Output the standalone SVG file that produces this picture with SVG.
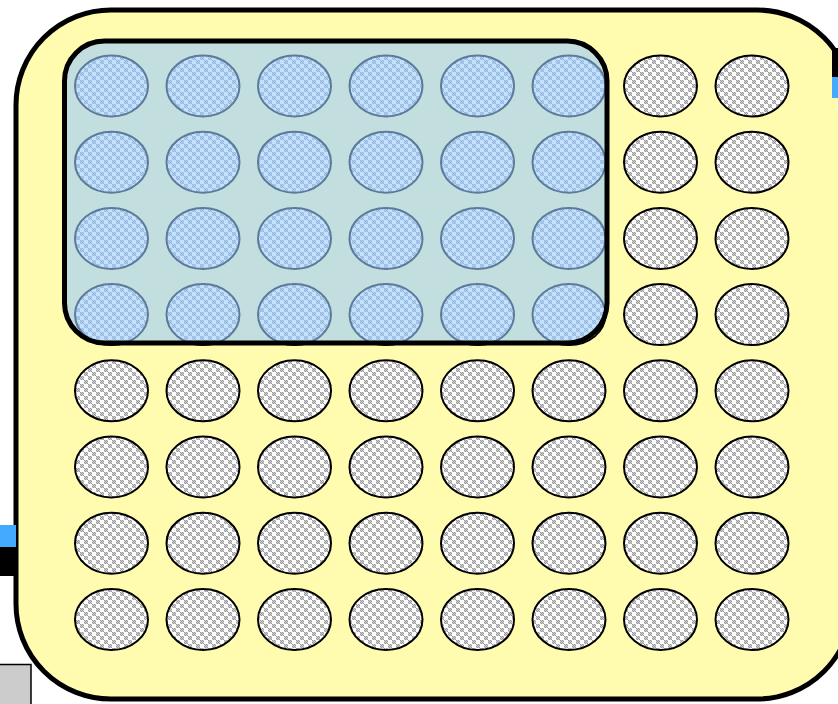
<svg xmlns="http://www.w3.org/2000/svg" width="838" height="704" viewBox="0 0 838 704">
<defs>
<pattern id="chk" x="0" y="0" width="8" height="8" patternUnits="userSpaceOnUse">
<rect width="8" height="8" fill="#ffffff"/>
<rect x="0" y="0" width="4" height="4" fill="#d0d0d0"/>
<rect x="4" y="4" width="4" height="4" fill="#d0d0d0"/>
<rect x="0" y="0" width="1" height="1" fill="#9a9a9a"/><rect x="2" y="0" width="1" height="1" fill="#9a9a9a"/>
<rect x="1" y="1" width="1" height="1" fill="#9a9a9a"/><rect x="3" y="1" width="1" height="1" fill="#9a9a9a"/>
<rect x="0" y="2" width="1" height="1" fill="#9a9a9a"/><rect x="2" y="2" width="1" height="1" fill="#9a9a9a"/>
<rect x="1" y="3" width="1" height="1" fill="#9a9a9a"/><rect x="3" y="3" width="1" height="1" fill="#9a9a9a"/>
<rect x="4" y="4" width="1" height="1" fill="#9a9a9a"/><rect x="6" y="4" width="1" height="1" fill="#9a9a9a"/>
<rect x="5" y="5" width="1" height="1" fill="#9a9a9a"/><rect x="7" y="5" width="1" height="1" fill="#9a9a9a"/>
<rect x="4" y="6" width="1" height="1" fill="#9a9a9a"/><rect x="6" y="6" width="1" height="1" fill="#9a9a9a"/>
<rect x="5" y="7" width="1" height="1" fill="#9a9a9a"/><rect x="7" y="7" width="1" height="1" fill="#9a9a9a"/>
</pattern>
</defs>
<style>
.outer{fill:#fffbaf;stroke:#000;stroke-width:5}
.cell{fill:url(#chk);stroke:#000;stroke-width:2}
.overlay{fill:#99ccff;fill-opacity:0.6;stroke:#000;stroke-width:5}
</style>
<g id="container">
<rect class="outer" x="16" y="10" width="836" height="689" rx="95" ry="95"/>
</g>
<g id="side-marks">
<rect x="832" y="48" width="16" height="29" fill="#000"/>
<rect x="832" y="77" width="16" height="21" fill="#44aaff"/>
<rect x="0" y="525" width="16" height="22" fill="#44aaff"/>
<rect x="0" y="547" width="18" height="29" fill="#000"/>
<rect x="-2" y="664.5" width="33" height="45" fill="#cccccc" stroke="#000" stroke-width="1.5"/>
</g>
<g id="cells">
<g id="c1-1"><ellipse class="cell" cx="111.5" cy="86" rx="36.5" ry="30.5"/></g>
<g id="c1-2"><ellipse class="cell" cx="203" cy="86" rx="36.5" ry="30.5"/></g>
<g id="c1-3"><ellipse class="cell" cx="294.5" cy="86" rx="36.5" ry="30.5"/></g>
<g id="c1-4"><ellipse class="cell" cx="386" cy="86" rx="36.5" ry="30.5"/></g>
<g id="c1-5"><ellipse class="cell" cx="477.5" cy="86" rx="36.5" ry="30.5"/></g>
<g id="c1-6"><ellipse class="cell" cx="569" cy="86" rx="36.5" ry="30.5"/></g>
<g id="c1-7"><ellipse class="cell" cx="660.5" cy="86" rx="36.5" ry="30.5"/></g>
<g id="c1-8"><ellipse class="cell" cx="752" cy="86" rx="36.5" ry="30.5"/></g>
<g id="c2-1"><ellipse class="cell" cx="111.5" cy="162.2" rx="36.5" ry="30.5"/></g>
<g id="c2-2"><ellipse class="cell" cx="203" cy="162.2" rx="36.5" ry="30.5"/></g>
<g id="c2-3"><ellipse class="cell" cx="294.5" cy="162.2" rx="36.5" ry="30.5"/></g>
<g id="c2-4"><ellipse class="cell" cx="386" cy="162.2" rx="36.5" ry="30.5"/></g>
<g id="c2-5"><ellipse class="cell" cx="477.5" cy="162.2" rx="36.5" ry="30.5"/></g>
<g id="c2-6"><ellipse class="cell" cx="569" cy="162.2" rx="36.5" ry="30.5"/></g>
<g id="c2-7"><ellipse class="cell" cx="660.5" cy="162.2" rx="36.5" ry="30.5"/></g>
<g id="c2-8"><ellipse class="cell" cx="752" cy="162.2" rx="36.5" ry="30.5"/></g>
<g id="c3-1"><ellipse class="cell" cx="111.5" cy="238.4" rx="36.5" ry="30.5"/></g>
<g id="c3-2"><ellipse class="cell" cx="203" cy="238.4" rx="36.5" ry="30.5"/></g>
<g id="c3-3"><ellipse class="cell" cx="294.5" cy="238.4" rx="36.5" ry="30.5"/></g>
<g id="c3-4"><ellipse class="cell" cx="386" cy="238.4" rx="36.5" ry="30.5"/></g>
<g id="c3-5"><ellipse class="cell" cx="477.5" cy="238.4" rx="36.5" ry="30.5"/></g>
<g id="c3-6"><ellipse class="cell" cx="569" cy="238.4" rx="36.5" ry="30.5"/></g>
<g id="c3-7"><ellipse class="cell" cx="660.5" cy="238.4" rx="36.5" ry="30.5"/></g>
<g id="c3-8"><ellipse class="cell" cx="752" cy="238.4" rx="36.5" ry="30.5"/></g>
<g id="c4-1"><ellipse class="cell" cx="111.5" cy="314.6" rx="36.5" ry="30.5"/></g>
<g id="c4-2"><ellipse class="cell" cx="203" cy="314.6" rx="36.5" ry="30.5"/></g>
<g id="c4-3"><ellipse class="cell" cx="294.5" cy="314.6" rx="36.5" ry="30.5"/></g>
<g id="c4-4"><ellipse class="cell" cx="386" cy="314.6" rx="36.5" ry="30.5"/></g>
<g id="c4-5"><ellipse class="cell" cx="477.5" cy="314.6" rx="36.5" ry="30.5"/></g>
<g id="c4-6"><ellipse class="cell" cx="569" cy="314.6" rx="36.5" ry="30.5"/></g>
<g id="c4-7"><ellipse class="cell" cx="660.5" cy="314.6" rx="36.5" ry="30.5"/></g>
<g id="c4-8"><ellipse class="cell" cx="752" cy="314.6" rx="36.5" ry="30.5"/></g>
<g id="c5-1"><ellipse class="cell" cx="111.5" cy="390.8" rx="36.5" ry="30.5"/></g>
<g id="c5-2"><ellipse class="cell" cx="203" cy="390.8" rx="36.5" ry="30.5"/></g>
<g id="c5-3"><ellipse class="cell" cx="294.5" cy="390.8" rx="36.5" ry="30.5"/></g>
<g id="c5-4"><ellipse class="cell" cx="386" cy="390.8" rx="36.5" ry="30.5"/></g>
<g id="c5-5"><ellipse class="cell" cx="477.5" cy="390.8" rx="36.5" ry="30.5"/></g>
<g id="c5-6"><ellipse class="cell" cx="569" cy="390.8" rx="36.5" ry="30.5"/></g>
<g id="c5-7"><ellipse class="cell" cx="660.5" cy="390.8" rx="36.5" ry="30.5"/></g>
<g id="c5-8"><ellipse class="cell" cx="752" cy="390.8" rx="36.5" ry="30.5"/></g>
<g id="c6-1"><ellipse class="cell" cx="111.5" cy="467" rx="36.5" ry="30.5"/></g>
<g id="c6-2"><ellipse class="cell" cx="203" cy="467" rx="36.5" ry="30.5"/></g>
<g id="c6-3"><ellipse class="cell" cx="294.5" cy="467" rx="36.5" ry="30.5"/></g>
<g id="c6-4"><ellipse class="cell" cx="386" cy="467" rx="36.5" ry="30.5"/></g>
<g id="c6-5"><ellipse class="cell" cx="477.5" cy="467" rx="36.5" ry="30.5"/></g>
<g id="c6-6"><ellipse class="cell" cx="569" cy="467" rx="36.5" ry="30.5"/></g>
<g id="c6-7"><ellipse class="cell" cx="660.5" cy="467" rx="36.5" ry="30.5"/></g>
<g id="c6-8"><ellipse class="cell" cx="752" cy="467" rx="36.5" ry="30.5"/></g>
<g id="c7-1"><ellipse class="cell" cx="111.5" cy="543.2" rx="36.5" ry="30.5"/></g>
<g id="c7-2"><ellipse class="cell" cx="203" cy="543.2" rx="36.5" ry="30.5"/></g>
<g id="c7-3"><ellipse class="cell" cx="294.5" cy="543.2" rx="36.5" ry="30.5"/></g>
<g id="c7-4"><ellipse class="cell" cx="386" cy="543.2" rx="36.5" ry="30.5"/></g>
<g id="c7-5"><ellipse class="cell" cx="477.5" cy="543.2" rx="36.5" ry="30.5"/></g>
<g id="c7-6"><ellipse class="cell" cx="569" cy="543.2" rx="36.5" ry="30.5"/></g>
<g id="c7-7"><ellipse class="cell" cx="660.5" cy="543.2" rx="36.5" ry="30.5"/></g>
<g id="c7-8"><ellipse class="cell" cx="752" cy="543.2" rx="36.5" ry="30.5"/></g>
<g id="c8-1"><ellipse class="cell" cx="111.5" cy="619.5" rx="36.5" ry="30.5"/></g>
<g id="c8-2"><ellipse class="cell" cx="203" cy="619.5" rx="36.5" ry="30.5"/></g>
<g id="c8-3"><ellipse class="cell" cx="294.5" cy="619.5" rx="36.5" ry="30.5"/></g>
<g id="c8-4"><ellipse class="cell" cx="386" cy="619.5" rx="36.5" ry="30.5"/></g>
<g id="c8-5"><ellipse class="cell" cx="477.5" cy="619.5" rx="36.5" ry="30.5"/></g>
<g id="c8-6"><ellipse class="cell" cx="569" cy="619.5" rx="36.5" ry="30.5"/></g>
<g id="c8-7"><ellipse class="cell" cx="660.5" cy="619.5" rx="36.5" ry="30.5"/></g>
<g id="c8-8"><ellipse class="cell" cx="752" cy="619.5" rx="36.5" ry="30.5"/></g>
</g>
<g id="selection">
<rect class="overlay" x="64.5" y="41" width="542.5" height="302" rx="40" ry="40"/>
</g>
</svg>
